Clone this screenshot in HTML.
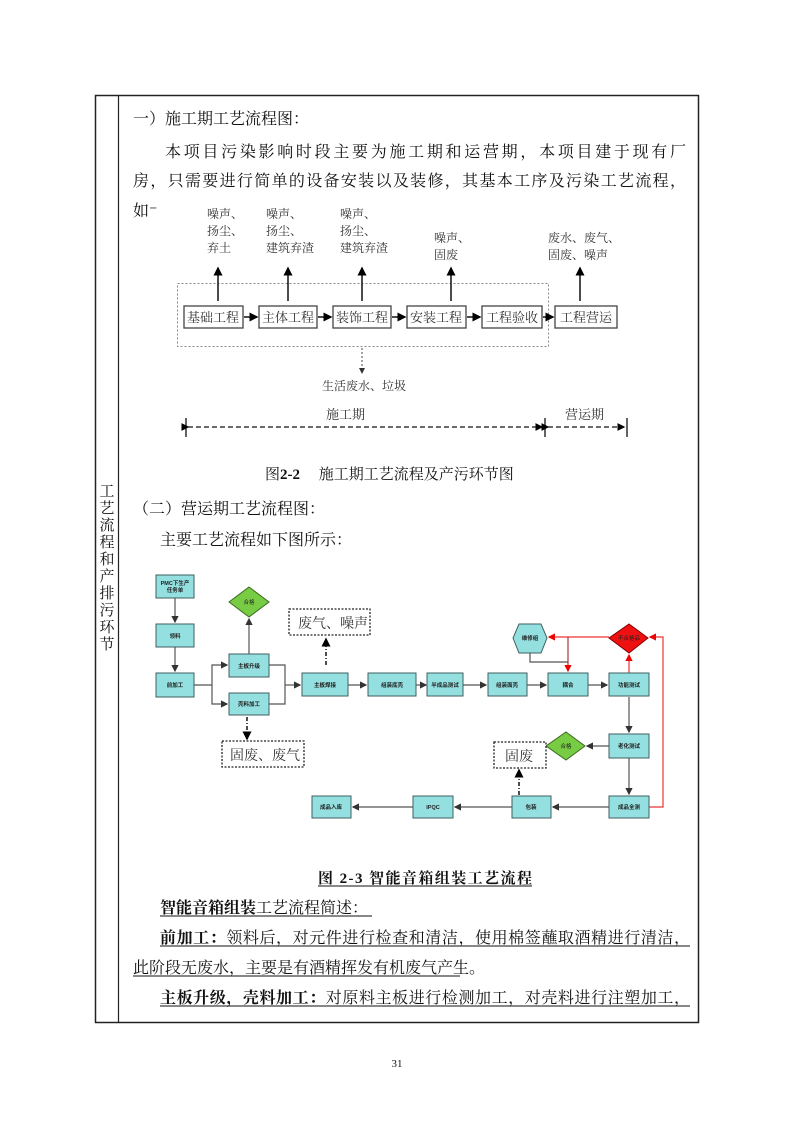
<!DOCTYPE html>
<html><head><meta charset="utf-8"><style>
html,body{margin:0;padding:0;background:#fff;}
body{width:793px;height:1122px;position:relative;overflow:hidden;font-family:"Liberation Serif","Noto Serif CJK SC","Noto Sans CJK SC",serif;}
svg{position:absolute;left:0;top:0;}
</style></head><body>
<svg width="793" height="1122" viewBox="0 0 793 1122" xmlns="http://www.w3.org/2000/svg" font-family="Liberation Serif, Noto Serif CJK SC, Noto Sans CJK SC, serif">
<defs>
<marker id="a" markerWidth="6" markerHeight="6" refX="5" refY="3" orient="auto"><path d="M0,0 L6,3 L0,6z" fill="#333"/></marker>
<marker id="ab" markerWidth="6" markerHeight="6" refX="5" refY="3" orient="auto"><path d="M0,0 L6,3 L0,6z" fill="#000"/></marker>
<marker id="r" markerWidth="6" markerHeight="6" refX="5" refY="3" orient="auto"><path d="M0,0 L6,3 L0,6z" fill="#e00"/></marker>
</defs>
<rect x="95.5" y="95.5" width="603" height="927" fill="none" stroke="#222" stroke-width="1.5"/>
<line x1="118.5" y1="95" x2="118.5" y2="1022" stroke="#222" stroke-width="1.2"/>
<g font-size="15" fill="#111" text-anchor="middle">
<text x="107" y="496">工</text><text x="107" y="513">艺</text><text x="107" y="530">流</text><text x="107" y="547">程</text><text x="107" y="564">和</text><text x="107" y="581">产</text><text x="107" y="598">排</text><text x="107" y="615">污</text><text x="107" y="632">环</text><text x="107" y="649">节</text>
</g>
<g font-size="16" fill="#111">
<text x="133" y="124">一）施工期工艺流程图：</text>
<text x="165" y="157" textLength="521" lengthAdjust="spacing">本项目污染影响时段主要为施工期和运营期，本项目建于现有厂</text>
<text x="133" y="186" textLength="553" lengthAdjust="spacing">房，只需要进行简单的设备安装以及装修，其基本工序及污染工艺流程，</text>
<text x="133" y="216">如⁻</text>
</g>
<g font-size="12" fill="#333">
<text x="207" y="218">噪声、</text><text x="207" y="235">扬尘、</text><text x="207" y="252">弃土</text>
<text x="266" y="218">噪声、</text><text x="266" y="235">扬尘、</text><text x="266" y="252">建筑弃渣</text>
<text x="340" y="218">噪声、</text><text x="340" y="235">扬尘、</text><text x="340" y="252">建筑弃渣</text>
<text x="434" y="242">噪声、</text><text x="434" y="259">固废</text>
<text x="548" y="242">废水、废气、</text><text x="548" y="259">固废、噪声</text>
<text x="322" y="390">生活废水、垃圾</text>
<text x="326" y="419" font-size="13">施工期</text>
<text x="565" y="419" font-size="13">营运期</text>
</g>
<rect x="177.5" y="283.5" width="371" height="63" fill="none" stroke="#888" stroke-dasharray="2,2"/>
<g fill="#fff" stroke="#444" stroke-width="1.3">
<rect x="184" y="306" width="59" height="22"/><rect x="259" y="306" width="58" height="22"/><rect x="333" y="306" width="58" height="22"/><rect x="407" y="306" width="59" height="22"/><rect x="482" y="306" width="60" height="22"/><rect x="555" y="306" width="62" height="22"/>
</g>
<g font-size="13" fill="#333" text-anchor="middle">
<text x="213" y="322">基础工程</text><text x="288" y="322">主体工程</text><text x="362" y="322">装饰工程</text><text x="436" y="322">安装工程</text><text x="512" y="322">工程验收</text><text x="586" y="322">工程营运</text>
</g>
<g stroke="#111" stroke-width="1.5" marker-end="url(#ab)">
<line x1="244" y1="317" x2="257" y2="317"/><line x1="318" y1="317" x2="331" y2="317"/><line x1="392" y1="317" x2="405" y2="317"/><line x1="467" y1="317" x2="480" y2="317"/><line x1="543" y1="317" x2="553" y2="317"/>
<line x1="218" y1="301" x2="218" y2="268"/><line x1="288" y1="301" x2="288" y2="268"/><line x1="362" y1="301" x2="362" y2="268"/><line x1="451" y1="301" x2="451" y2="268"/><line x1="580" y1="301" x2="580" y2="268"/>
</g>
<line x1="362" y1="348" x2="362" y2="373" stroke="#444" stroke-dasharray="2,2" marker-end="url(#a)"/>
<g stroke="#111" stroke-width="1.3">
<line x1="186" y1="418" x2="186" y2="437"/><line x1="545" y1="418" x2="545" y2="437"/><line x1="627" y1="418" x2="627" y2="437"/>
<line x1="188" y1="427" x2="542" y2="427" stroke-dasharray="5,3" marker-start="url(#ab)" marker-end="url(#ab)"/>
<line x1="548" y1="427" x2="624" y2="427" stroke-dasharray="5,3" marker-start="url(#ab)" marker-end="url(#ab)"/>
</g>
<text x="265" y="479" font-size="15" fill="#111">图<tspan font-weight="bold">2-2</tspan>　  施工期工艺流程及产污环节图</text>
<g font-size="16" fill="#111">
<text x="133" y="514">（二）营运期工艺流程图：</text>
<text x="160" y="545">主要工艺流程如下图所示：</text>
</g>
<g stroke="#555" stroke-width="1.2" fill="none">
<path d="M175,598 V622" marker-end="url(#a)"/>
<path d="M175,647 V671" marker-end="url(#a)"/>
<path d="M194,685 H212 V665 H227" marker-end="url(#a)"/>
<path d="M212,685 V704 H227" marker-end="url(#a)"/>
<path d="M249,654 V619" marker-end="url(#a)"/>
<path d="M269,665 H285 V704 H269"/>
<path d="M285,685 H300" marker-end="url(#a)"/>
<path d="M348,685 H366" marker-end="url(#a)"/>
<path d="M416,685 H426" marker-end="url(#a)"/>
<path d="M463,685 H486" marker-end="url(#a)"/>
<path d="M527,685 H546" marker-end="url(#a)"/>
<path d="M588,685 H607" marker-end="url(#a)"/>
<path d="M629,697 V732" marker-end="url(#a)"/>
<path d="M609,746 H587" marker-end="url(#a)"/>
<path d="M629,758 V794" marker-end="url(#a)"/>
<path d="M609,807 H553" marker-end="url(#a)"/>
<path d="M512,807 H455" marker-end="url(#a)"/>
<path d="M413,807 H353" marker-end="url(#a)"/>
<path d="M530,653 V662 H568"/>
</g>
<g stroke="#111" stroke-width="1.5" stroke-dasharray="4,2,1,2" fill="none">
<path d="M326,665 V639" marker-end="url(#ab)"/>
<path d="M247,717 V739" marker-end="url(#ab)"/>
<path d="M519,795 V770" marker-end="url(#ab)"/>
</g>
<g stroke="#e33" stroke-width="1.2" fill="none">
<path d="M649,807 H663 V637 H650" marker-end="url(#r)"/>
<path d="M629,673 V655" marker-end="url(#r)"/>
<path d="M609,637 H549" marker-end="url(#r)"/>
<path d="M568,637 V671" stroke="#a33" marker-end="url(#r)"/>
</g>
<g fill="#94e0e0" stroke="#3f5f60" stroke-width="1">
<rect x="156" y="575" width="38" height="23"/><rect x="156" y="624" width="38" height="23"/><rect x="156" y="673" width="38" height="24"/>
<rect x="229" y="654" width="40" height="23"/><rect x="229" y="693" width="40" height="22"/>
<rect x="302" y="673" width="46" height="23"/><rect x="368" y="673" width="48" height="23"/><rect x="427" y="673" width="36" height="23"/><rect x="488" y="673" width="39" height="23"/><rect x="548" y="673" width="40" height="23"/><rect x="609" y="673" width="40" height="23"/>
<rect x="609" y="734" width="40" height="24"/><rect x="609" y="796" width="40" height="22"/><rect x="512" y="796" width="39" height="22"/><rect x="413" y="796" width="40" height="22"/><rect x="312" y="796" width="39" height="22"/>
<polygon points="519,624 541,624 547,638 541,653 519,653 513,638"/>
</g>
<polygon points="249,587 269,602 249,617 229,602" fill="#77cc44" stroke="#3a6a20"/>
<polygon points="566,732 585,746 566,760 546,746" fill="#77cc44" stroke="#3a6a20"/>
<polygon points="629,624 648,638 629,653 609,638" fill="#ee1111" stroke="#800"/>
<g font-size="5.5" fill="#222" text-anchor="middle" font-family="Liberation Sans, Noto Sans CJK SC, sans-serif" font-weight="bold">
<text x="175" y="585">PMC下生产</text><text x="175" y="592">任务单</text>
<text x="175" y="638">领料</text><text x="175" y="687">前加工</text>
<text x="249" y="668">主板升级</text><text x="249" y="706">壳料加工</text>
<text x="325" y="687">主板焊接</text><text x="392" y="687">组装底壳</text><text x="445" y="687">半成品测试</text><text x="507" y="687">组装面壳</text><text x="568" y="687">耦合</text><text x="629" y="687">功能测试</text>
<text x="629" y="748">老化测试</text><text x="629" y="809">成品全测</text><text x="531" y="809">包装</text><text x="433" y="809">IPQC</text><text x="331" y="809">成品入库</text>
<text x="530" y="640">维修组</text>
<text x="249" y="604" font-weight="normal">合格</text><text x="566" y="748" font-weight="normal">合格</text><text x="629" y="640" font-weight="normal">不合格品</text>
</g>
<g fill="#fff" stroke="#222" stroke-width="1.3" stroke-dasharray="2,1.5">
<rect x="289" y="609" width="81" height="26"/><rect x="222" y="741" width="82" height="26"/><rect x="494" y="742" width="52" height="26"/>
</g>
<g font-size="14" fill="#333">
<text x="298" y="628">废气、噪声</text><text x="230" y="760">固废、废气</text><text x="505" y="761">固废</text>
</g>
<text x="318" y="883" font-size="15" font-weight="bold" fill="#111" textLength="214" lengthAdjust="spacing">图 2-3  智能音箱组装工艺流程</text>
<line x1="318" y1="886" x2="532" y2="886" stroke="#111"/>
<g font-size="16" fill="#111">
<text x="160" y="913"><tspan font-weight="bold">智能音箱组装</tspan>工艺流程简述：</text>
<line x1="160" y1="916" x2="372" y2="916" stroke="#111"/>
<text x="160" y="943" textLength="530" lengthAdjust="spacing"><tspan font-weight="bold">前加工：</tspan>领料后，对元件进行检查和清洁，使用棉签蘸取酒精进行清洁，</text>
<line x1="160" y1="946" x2="690" y2="946" stroke="#111"/>
<text x="133" y="973">此阶段无废水，主要是有酒精挥发有机废气产生。</text>
<line x1="133" y1="976" x2="460" y2="976" stroke="#111"/>
<text x="160" y="1003" textLength="530" lengthAdjust="spacing"><tspan font-weight="bold">主板升级，壳料加工：</tspan>对原料主板进行检测加工，对壳料进行注塑加工，</text>
<line x1="160" y1="1006" x2="690" y2="1006" stroke="#111"/>
</g>
<text x="397" y="1067" font-size="11" fill="#111" text-anchor="middle">31</text>
</svg>
</body></html>
